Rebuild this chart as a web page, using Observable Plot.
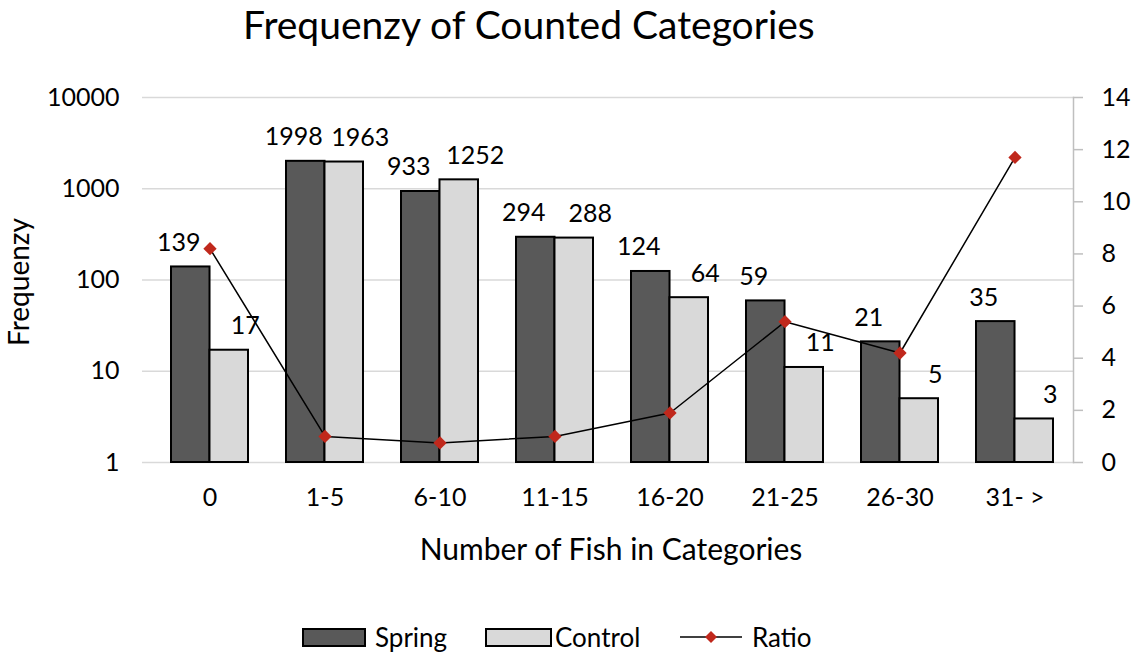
<!DOCTYPE html>
<html><head><meta charset="utf-8">
<script src="https://cdn.jsdelivr.net/npm/d3@7"></script>
<script src="https://cdn.jsdelivr.net/npm/@observablehq/plot@0.6"></script>
<style>
body{margin:0;background:#fff;font-family:Lato,"Open Sans",sans-serif;color:#000;}
#wrap{position:relative;width:1138px;height:656px;overflow:hidden;}
#chart{position:absolute;left:0;top:0;}
.abs{position:absolute;white-space:nowrap;line-height:1;}
#title{left:243px;top:5px;font-size:39px;}
#ylab{left:18px;top:282px;font-size:28px;transform:translate(-50%,-50%) rotate(-90deg);transform-origin:center;}
#xlab{left:611px;top:548px;font-size:30px;transform:translate(-50%,-50%);}
#legend{left:0;top:622px;width:1138px;height:30px;}
.lg{position:absolute;top:0;font-size:26px;line-height:30px;}
</style></head><body>
<div id="wrap">
<div id="chart"></div>
<div id="title" class="abs">Frequenzy of Counted Categories</div>
<div id="ylab" class="abs">Frequenzy</div>
<div id="xlab" class="abs">Number of Fish in Categories</div>
<div id="legend" class="abs"></div>
</div>
<script>
const categories = ["0","1-5","6-10","11-15","16-20","21-25","26-30","31- >"];
const spring = [139,1998,933,294,124,59,21,35];
const control = [17,1963,1252,288,64,11,5,3];
const ratio = [8.2,1.0,0.75,1.0,1.9,5.4,4.2,11.7];
const leftTicks = [1,10,100,1000,10000];
const rightTicks = [0,2,4,6,8,10,12,14];
const seriesNames = ["Spring","Control","Ratio"];

const rows = categories.map((c,i)=>({category:c, spring:spring[i], control:control[i], ratio:ratio[i]}));
const rightMax = 14;
const toLog = r => 10 ** (r / rightMax * Math.log10(10000));

const W = 1138, H = 600, mL = 150, mR = 65, mT = 97, mB = 138;
const pIn = 0.333, pOut = 0.1667;
const step = (W - mL - mR) / (categories.length - pIn + 2*pOut);
const half = step * (1 - pIn) / 2;
const darkC = "#595959", lightC = "#d9d9d9", red = "#c0281c", grid = "#d9d9d9";

const chart = Plot.plot({
  width: W, height: H,
  marginLeft: mL, marginRight: mR, marginTop: mT, marginBottom: mB,
  style: {fontFamily: "Lato, 'Open Sans', sans-serif", fontSize: "25px", background: "transparent"},
  x: {type: "band", domain: categories, paddingInner: pIn, paddingOuter: pOut, axis: null},
  y: {type: "log", domain: [1, 10000], axis: null},
  marks: [
    Plot.ruleY(leftTicks, {stroke: grid, strokeWidth: 1.5, insetLeft: -8}),
    Plot.frame({anchor: "right", stroke: "#bfbfbf", strokeWidth: 1.5}),
    Plot.axisY(leftTicks, {anchor: "left", tickSize: 0, tickPadding: 31, fontSize: 25, fill: "#000", tickFormat: d => String(d)}),
    Plot.ruleY(rightTicks, {y: toLog, stroke: "#bfbfbf", strokeWidth: 1.5, insetLeft: W - mL - mR, insetRight: -10}),
    Plot.text(rightTicks, {y: toLog, text: d => String(d), frameAnchor: "right", dx: 28, textAnchor: "start", fontSize: 25, fill: "#000"}),
    Plot.axisX(categories, {anchor: "bottom", tickSize: 0, tickPadding: 26, fontSize: 25, fill: "#000", label: null}),
    Plot.barY(rows, {x: "category", y1: 1, y2: "spring", fill: darkC, stroke: "#000", strokeWidth: 2, insetRight: half}),
    Plot.barY(rows, {x: "category", y1: 1, y2: "control", fill: lightC, stroke: "#000", strokeWidth: 2, insetLeft: half}),
    Plot.text(rows, {x: "category", y: "spring", text: d => String(d.spring), dx: -half/2 - 12, dy: -24, fontSize: 25, fill: "#000"}),
    Plot.text(rows, {x: "category", y: "control", text: d => String(d.control), dx: half/2 + 16, dy: -24, fontSize: 25, fill: "#000"}),
    Plot.line(rows, {x: "category", y: d => toLog(d.ratio), stroke: "#000", strokeWidth: 1.5}),
    Plot.dot(rows, {x: "category", y: d => toLog(d.ratio), symbol: "square", rotate: 45, r: 5.3, fill: red, stroke: "none"})
  ]
});
document.getElementById("chart").appendChild(chart);

// legend
const lg = document.getElementById("legend");
const items = [
  {name: seriesNames[0], type: "box", fill: darkC, x: 303, w: 62, tx: 375},
  {name: seriesNames[1], type: "box", fill: lightC, x: 486, w: 65, tx: 555},
  {name: seriesNames[2], type: "line", x: 680, w: 62, tx: 752}
];
for (const it of items) {
  const s = document.createElementNS("http://www.w3.org/2000/svg","svg");
  s.setAttribute("width", it.w + 4); s.setAttribute("height", 30);
  s.style.position = "absolute"; s.style.left = (it.x - 2) + "px"; s.style.top = "0px";
  if (it.type === "box") {
    s.innerHTML = `<rect x="2" y="7" width="${it.w}" height="17" fill="${it.fill}" stroke="#000" stroke-width="2"/>`;
  } else {
    const c = 2 + it.w/2;
    s.innerHTML = `<line x1="2" x2="${it.w+2}" y1="15" y2="15" stroke="#000" stroke-width="1.5"/><path d="M${c},${9} L${c+6},15 L${c},21 L${c-6},15Z" fill="${red}"/>`;
  }
  lg.appendChild(s);
  const t = document.createElement("div");
  t.className = "lg"; t.style.left = it.tx + "px"; t.textContent = it.name;
  lg.appendChild(t);
}
</script>
</body></html>
